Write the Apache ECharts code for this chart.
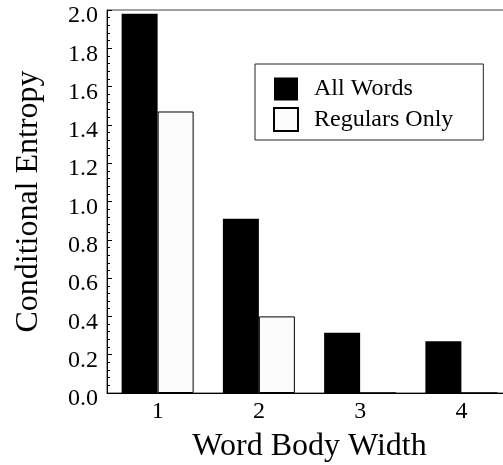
<!DOCTYPE html>
<html><head><meta charset="utf-8">
<script src="https://cdn.jsdelivr.net/npm/echarts@6/dist/echarts.min.js"></script>
<style>html,body{margin:0;padding:0;background:#fff}#c{width:503px;height:465px}</style>
</head><body><div id="c"></div>
<script>
const categories = ['1', '2', '3', '4'];
const allWords = [1.98, 0.91, 0.315, 0.27];
const regularsOnly = [1.47, 0.40, 0, 0];
const seriesNames = ['All Words', 'Regulars Only'];
const yMin = 0, yMax = 2.0, yInterval = 0.2;

const font = 'Liberation Serif';
const chart = echarts.init(document.getElementById('c'), null, {renderer: 'canvas'});
chart.setOption({
  animation: false,
  backgroundColor: '#fff',
  grid: {left: 107, top: 10, width: 405, height: 383, containLabel: false, outerBoundsMode: 'none',
    show: true, borderColor: '#444', borderWidth: 1, backgroundColor: 'transparent'},
  legend: {
    orient: 'vertical', left: 255, top: 64,
    itemWidth: 24, itemHeight: 23, itemGap: 6,
    padding: [13, 30, 8, 18],
    borderColor: '#222', borderWidth: 1, backgroundColor: '#fff',
    icon: 'rect',
    textStyle: {fontFamily: font, fontSize: 24, color: '#000', padding: [0, 0, 0, 11]},
    data: seriesNames
  },
  xAxis: {
    type: 'category', data: categories, boundaryGap: true,
    axisLine: {lineStyle: {color: '#000', width: 1}},
    axisTick: {show: false},
    axisLabel: {fontFamily: font, fontSize: 24, color: '#000', margin: 7},
    name: 'Word Body Width', nameLocation: 'middle', nameGap: 38,
    nameTextStyle: {fontFamily: font, fontSize: 32, color: '#000'},
    splitLine: {show: false}
  },
  yAxis: {
    type: 'value', min: yMin, max: yMax, interval: yInterval,
    axisLine: {show: true, lineStyle: {color: '#000', width: 1}},
    axisTick: {show: true, inside: true, length: 5, lineStyle: {color: '#000'}},
    minorTick: {show: true, splitNumber: 5, length: 3, lineStyle: {color: '#000'}},
    splitLine: {show: false},
    axisLabel: {fontFamily: font, fontSize: 24, color: '#000', margin: 9, lineHeight: 12,
      formatter: v => '\n' + v.toFixed(1)},
    name: 'Conditional Entropy', nameLocation: 'middle', nameGap: 62,
    nameTextStyle: {fontFamily: font, fontSize: 32, color: '#000'}
  },
  series: [
    {name: seriesNames[0], type: 'bar', data: allWords, barWidth: 36, barGap: '0%',
     itemStyle: {color: '#000', borderColor: '#000', borderWidth: 0}},
    {name: seriesNames[1], type: 'bar', data: regularsOnly, barWidth: 36, barGap: '0%',
     itemStyle: {color: '#fcfcfc', borderColor: '#000', borderWidth: 1}}
  ]
});
</script></body></html>
